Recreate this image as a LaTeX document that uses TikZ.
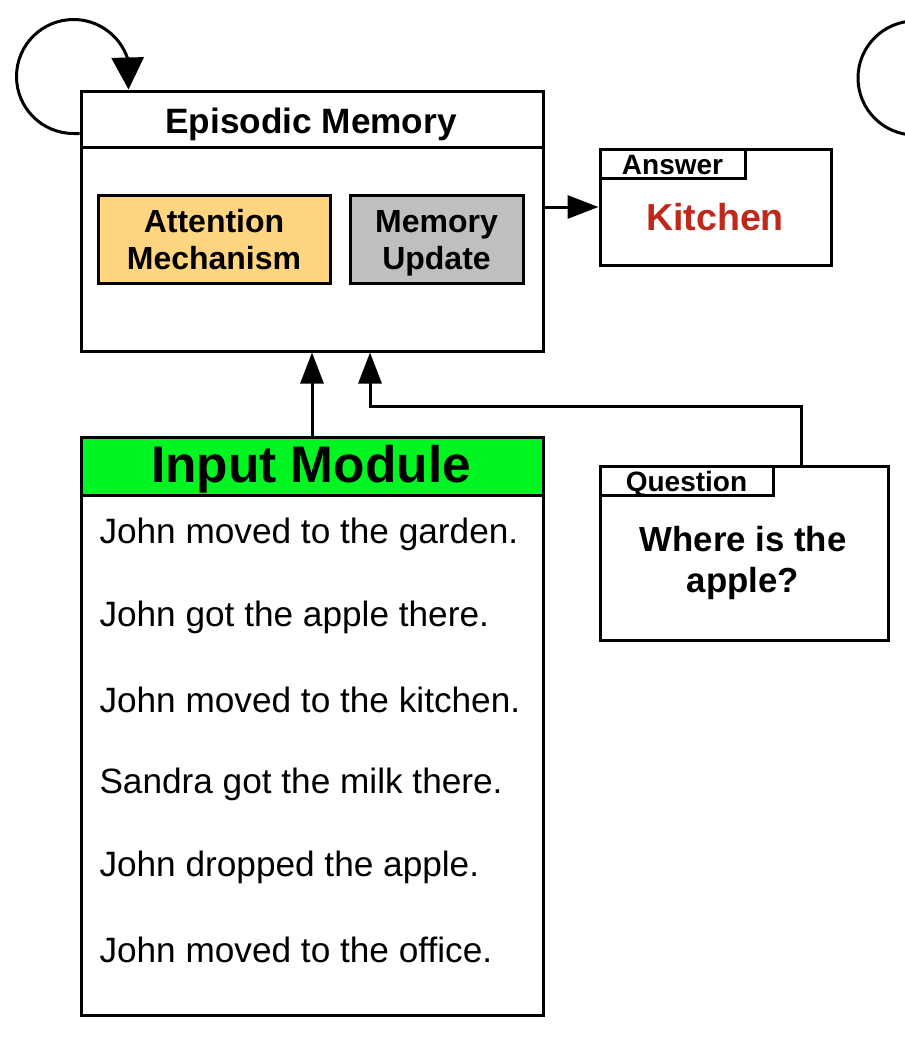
\documentclass[tikz,border=0pt]{standalone}
\usepackage{fontspec}
\setmainfont{Liberation Sans}
\usetikzlibrary{arrows.meta}
\definecolor{attn}{HTML}{FFD580}
\definecolor{upd}{HTML}{BFBFBF}
\definecolor{inp}{HTML}{00F522}
\definecolor{ansred}{HTML}{C0281C}
\begin{document}
\begin{tikzpicture}[x=0.5pt,y=-0.5pt, line width=1.5pt,
  box/.style={draw, rectangle, inner sep=0pt},
  arr/.style={-{Triangle[length=15.5pt,width=11.5pt]}},
  looparr/.style={-{Triangle[length=16pt,width=16pt]}},
  sent/.style={anchor=west, inner sep=0pt, font=\fontsize{17.6}{20}\selectfont},
  tabtext/.style={font=\bfseries\fontsize{14}{16}\selectfont},
  inbox/.style={align=center, font=\bfseries\fontsize{16}{18.5}\selectfont},
]
\clip (0,0) rectangle (905,1040);
% Episodic memory
\node[box, minimum width=231pt, minimum height=130pt] (em) at (312,221) {};
\draw ([yshift=-29pt]em.north west) -- ([yshift=-29pt]em.north east);
\node[font=\bfseries\fontsize{17.6}{20}\selectfont] (emt) at (311,124) {Episodic Memory};
\node[box, fill=attn, minimum width=116pt, minimum height=44pt] (att) at (214,239) {};
\node[inbox] (attt) at (214,240) {Attention\\Mechanism};
\node[box, fill=upd, minimum width=86.5pt, minimum height=44pt] (upd) at (436.5,239) {};
\node[inbox] (updt) at (436.5,243) {Memory\\Update};
% Answer
\node[box, minimum width=115.5pt, minimum height=58pt] (ans) at (715.5,207) {};
\node[box, anchor=north west, minimum width=72.5pt, minimum height=14.5pt] (anstab) at (ans.north west) {};
\node[tabtext] (anst) at ([yshift=-0.5pt]anstab.center) {Answer};
\node[font=\bfseries\fontsize{18.8}{22}\selectfont, text=ansred] (kit) at (715,217) {Kitchen};
\draw[arr] (em.east |- ans.west) -- (ans.west);
% Input module
\node[box, minimum width=231pt, minimum height=289pt] (im) at (312,726) {};
\node[box, fill=inp, anchor=north, minimum width=231pt, minimum height=29pt] (imh) at (im.north) {};
\node[font=\bfseries\fontsize{25.7}{28}\selectfont] (imt) at (311,469) {Input Module};
\node[sent] (s1) at (98,534) {John moved to the garden.};
\node[sent] (s2) at (98,617) {John got the apple there.};
\node[sent] (s3) at (98,700) {John moved to the kitchen.};
\node[sent] (s4) at (98,784) {Sandra got the milk there.};
\node[sent] (s5) at (98,867) {John dropped the apple.};
\node[sent] (s6) at (98,950) {John moved to the office.};
\draw[arr] (im.north) -- (em.south);
% Question
\node[box, minimum width=144pt, minimum height=87pt] (q) at (744,553) {};
\node[box, anchor=north west, minimum width=86.5pt, minimum height=14.5pt] (qtab) at (q.north west) {};
\node[tabtext] (qt) at ([yshift=-2pt]qtab.center) {Question};
\node[font=\bfseries\fontsize{17.4}{20.5}\selectfont, align=center] (qq) at (743,563) {Where is the\\apple?};
\coordinate (qa) at ([xshift=28.5pt]q.north);
\coordinate (ea) at ([xshift=29pt]em.south);
\draw[arr] (qa) -- ++(0,-58) -| (ea);
% loops
\coordinate (ls) at ([yshift=-22pt]em.north west);
\coordinate (le) at ([xshift=24.5pt]em.north west);
\draw[looparr] (ls) -- ++(-6,0) arc[start angle=90, end angle=342, radius=57] -- (le);
\coordinate (rc) at (915,78);
\draw (rc) circle[radius=57];
\end{tikzpicture}
\end{document}
